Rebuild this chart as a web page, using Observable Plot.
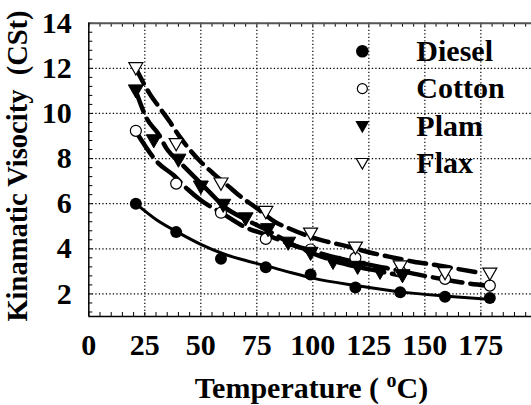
<!DOCTYPE html>
<html>
<head>
<meta charset="utf-8">
<script src="https://cdn.jsdelivr.net/npm/d3@7"></script>
<script src="https://cdn.jsdelivr.net/npm/@observablehq/plot@0.6"></script>
<style>
  html, body { margin: 0; padding: 0; background: white; }
  svg { display: block; }
</style>
</head>
<body>
<div id="chart"></div>
<script>
// ---- data ----
const seriesNames = ["Diesel", "Cotton", "Plam", "Flax"];

const temps = [21, 39, 59, 79, 99, 119, 139, 159, 179];
const diesel = [6.0, 4.74, 3.56, 3.18, 2.86, 2.29, 2.07, 1.88, 1.82];
const cotton = [9.23, 6.89, 5.6, 4.44, 3.97, 3.6, 3.0, 2.67, 2.37];
const flax = [12.0, 8.64, 6.89, 5.63, 4.67, 4.05, 3.22, 2.92, 2.9];

const plamTemps = [21, 29, 40, 50, 60, 70, 80, 89, 99, 109, 120, 130, 140];
const plam = [11.0, 8.79, 7.93, 6.74, 5.93, 5.33, 4.85, 4.25, 3.8, 3.4, 3.18, 2.96, 2.81];

// fitted curves
const dieselFitT = [21, 30, 40, 50, 60, 70, 80, 90, 100, 120, 140, 160, 180];
const dieselFit  = [6.0, 5.3, 4.72, 4.2, 3.78, 3.48, 3.22, 2.95, 2.7, 2.36, 2.08, 1.9, 1.75];

const cottonFitT = [21, 31, 38, 44, 50, 60, 70, 80, 90, 100, 110, 120, 130, 140, 150, 160, 170, 178];
const cottonFit  = [9.2, 7.8, 7.25, 6.65, 6.15, 5.55, 4.95, 4.6, 4.2, 3.9, 3.62, 3.4, 3.2, 3.0, 2.8, 2.62, 2.46, 2.37];

const plamFitT = [21, 26, 31, 35, 41, 50, 54, 60, 70, 80, 90, 100, 110, 120, 130, 140];
const plamFit  = [11.0, 9.75, 9.1, 8.4, 7.8, 6.9, 6.5, 5.9, 5.3, 4.8, 4.25, 3.8, 3.45, 3.2, 3.0, 2.8];

const flaxFitT = [21, 27, 32, 36, 40, 45, 50, 56, 62, 68, 75, 83, 90, 97, 105, 115, 125, 135, 145, 155, 165, 176];
const flaxFit  = [12.0, 10.9, 10.2, 9.65, 9.05, 8.4, 7.85, 7.3, 6.8, 6.3, 5.8, 5.2, 4.88, 4.6, 4.35, 4.12, 3.85, 3.63, 3.43, 3.28, 3.1, 2.92];

const xTicks = [0, 25, 50, 75, 100, 125, 150, 175];
const yTicks = [2, 4, 6, 8, 10, 12, 14];
const xGrid = [25, 50, 75, 100, 125, 150, 175];
const yGrid = [2, 4, 6, 8, 10, 12];
const xMinor = d3.range(0, 200, 5);
const yMinor = d3.range(14, 1, -0.4);

const xLabel = "Temperature ( ";
const yLabel = "Kinamatic Visocity  (CSt)";

// ---- helpers ----
const FONT = "Liberation Serif";
const zip = (xs, ys) => xs.map((x, i) => ({x, y: ys[i]}));
const triDown = {
  draw(ctx, size) {
    const r = Math.sqrt(size / Math.PI);
    ctx.moveTo(-r, -0.8 * r);
    ctx.lineTo(r, -0.8 * r);
    ctx.lineTo(0, 0.95 * r);
    ctx.closePath();
  }
};

const W = 531, H = 405;
const mL = 88.3, mR = 0, mT = 22.7, mB = 89;
const fw = W - mL - mR, fh = H - mT - mB;

// legend rows in data space
const legend = [
  {name: seriesNames[0], y: 12.76},
  {name: seriesNames[1], y: 11.1},
  {name: seriesNames[2], y: 9.42},
  {name: seriesNames[3], y: 7.79}
];
const legX = 122.1, legTX = 146.2;

const chart = Plot.plot({
  width: W, height: H,
  marginLeft: mL, marginRight: mR, marginTop: mT, marginBottom: mB,
  x: {domain: [0, 197.6]},
  y: {domain: [1, 14]},
  style: {fontFamily: FONT, background: "white", color: "black"},
  marks: [
    // grid
    Plot.ruleY(yGrid, {stroke: "black", strokeWidth: 1.2, strokeDasharray: "1.3,2.2"}),
    Plot.ruleX(xGrid, {stroke: "black", strokeWidth: 1.2, strokeDasharray: "1.3,2.2"}),
    // minor inner ticks
    Plot.ruleX(xMinor, {insetTop: fh - 4, stroke: "black", strokeWidth: 1}),
    Plot.ruleX(xMinor, {insetBottom: fh - 4, stroke: "black", strokeWidth: 1}),
    Plot.ruleY(yMinor, {insetRight: fw - 4, stroke: "black", strokeWidth: 1}),
    // frame
    Plot.ruleY([14], {stroke: "#555", strokeWidth: 2}),
    Plot.ruleY([1], {stroke: "black", strokeWidth: 1.5}),
    Plot.ruleX([0], {stroke: "black", strokeWidth: 1.5}),
    // axes
    Plot.axisX(xTicks, {tickSize: 0, tickPadding: 17, fontSize: 30, fontWeight: "bold", label: null}),
    Plot.axisY(yTicks, {tickSize: 0, tickPadding: 17, fontSize: 30, fontWeight: "bold", label: null}),
    // fitted lines
    Plot.line(zip(flaxFitT, flaxFit), {x: "x", y: "y", curve: "monotone-x", stroke: "black", strokeWidth: 4.5, strokeDasharray: "17,8"}),
    Plot.line(zip(cottonFitT, cottonFit), {x: "x", y: "y", curve: "monotone-x", stroke: "black", strokeWidth: 4.5, strokeDasharray: "30,8"}),
    Plot.line(zip(plamFitT, plamFit), {x: "x", y: "y", curve: "monotone-x", stroke: "black", strokeWidth: 4.5, strokeDasharray: "22,8"}),
    Plot.line(zip(dieselFitT, dieselFit), {x: "x", y: "y", curve: "monotone-x", stroke: "black", strokeWidth: 3}),
    // markers
    Plot.dot(zip(temps, cotton), {x: "x", y: "y", r: 5.5, fill: "white", stroke: "black", strokeWidth: 1.2}),
    Plot.dot(zip(temps, flax), {x: "x", y: "y", r: 7, symbol: triDown, fill: "white", stroke: "black", strokeWidth: 1.2}),
    Plot.dot(zip(plamTemps, plam), {x: "x", y: "y", r: 7.5, symbol: triDown, fill: "black", stroke: "black", strokeWidth: 1}),
    Plot.dot(zip(temps, diesel), {x: "x", y: "y", r: 6, fill: "black"}),
    // legend
    Plot.dot([legend[0]], {x: () => legX, y: "y", r: 6.3, fill: "black"}),
    Plot.dot([legend[1]], {x: () => legX, y: "y", r: 5, fill: "white", stroke: "black", strokeWidth: 1.2}),
    Plot.dot([legend[2]], {x: () => legX, y: "y", r: 7, symbol: triDown, fill: "black"}),
    Plot.dot([legend[3]], {x: () => legX, y: "y", r: 6, symbol: triDown, fill: "white", stroke: "black", strokeWidth: 1.2}),
    Plot.text(legend, {x: () => legTX, y: "y", text: "name", textAnchor: "start", fontSize: 30, fontWeight: "bold", fill: "black"})
  ]
});

const svg = d3.select(chart);
// x-axis title with superscript
const xt = svg.append("text")
  .attr("x", 311.5).attr("y", 398)
  .attr("text-anchor", "middle")
  .attr("font-family", FONT)
  .attr("font-weight", "bold")
  .attr("font-size", 30)
  .attr("fill", "black")
  .style("white-space", "pre");
xt.append("tspan").text(xLabel);
xt.append("tspan").attr("font-size", 20).attr("dy", -11).text("o");
xt.append("tspan").attr("dy", 11).text("C)");
// y-axis title
svg.append("text")
  .attr("transform", "translate(27,166) rotate(-90)")
  .attr("text-anchor", "middle")
  .attr("font-family", FONT)
  .attr("font-weight", "bold")
  .attr("font-size", 28.5)
  .attr("fill", "black")
  .style("white-space", "pre")
  .text(yLabel);

document.getElementById("chart").append(chart);
</script>
</body>
</html>
